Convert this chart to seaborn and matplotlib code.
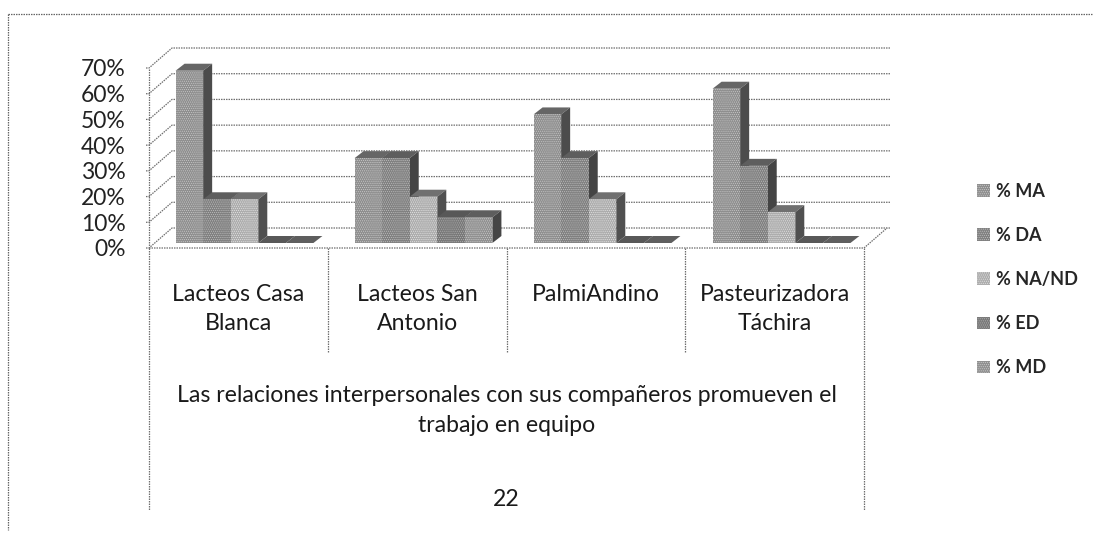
import matplotlib
matplotlib.use("Agg")
import matplotlib.pyplot as plt
from matplotlib.lines import Line2D
from matplotlib.patches import Polygon
from matplotlib.transforms import Affine2D
import pandas as pd
import seaborn as sns

categories = ["Lacteos Casa\nBlanca", "Lacteos San\nAntonio", "PalmiAndino", "Pasteurizadora\nTáchira"]
series = ["% MA", "% DA", "% NA/ND", "% ED", "% MD"]
ma = [67, 33, 50, 60]
da = [17, 33, 33, 30]
na_nd = [17, 18, 17, 12]
ed = [0, 10, 0, 0]
md = [0, 10, 0, 0]
yticks = [0, 10, 20, 30, 40, 50, 60, 70]
group_label = "Las relaciones interpersonales con sus compañeros promueven el\ntrabajo en equipo"
outer_label = "22"

face_colors = ["#8e8e8e", "#808080", "#acacac", "#787878", "#909090"]
hatch_colors = ["#c8c8c8", "#bcbcbc", "#e2e2e2", "#b0b0b0", "#c8c8c8"]
side_colors = ["#4c4c4c", "#444444", "#505050", "#404040", "#464646"]
top_colors = ["#666666", "#5e5e5e", "#707070", "#585858", "#5e5e5e"]

W, H = 1098, 536
sns.set_theme(style="white")
plt.rcParams["font.family"] = ["Lato", "DejaVu Sans"]
plt.rcParams["hatch.linewidth"] = 0.5
fig = plt.figure(figsize=(W / 100, H / 100), dpi=100, facecolor="white")
px = Affine2D().scale(1 / W, -1 / H).translate(0, 1) + fig.transFigure


def pos(x0, y0, x1, y1):
    return [x0 / W, 1 - y1 / H, (x1 - x0) / W, (y1 - y0) / H]


def line(xs, ys, color="#6e6e6e", lw=0.9, ls=(0, (1.2, 0.8))):
    fig.add_artist(Line2D(xs, ys, transform=px, color=color, lw=lw, ls=ls, zorder=0))


# outer frame
line([8, 8], [14, 530], color="#666666")
line([8, 1092], [14, 14], color="#666666")

# front plane axis (value scale and category frame)
FX0, FX1, FY0, FY1 = 149, 864, 248, 68
DX, DY = 23, -20
frame = fig.add_axes(pos(FX0, FY1, FX1, FY0), facecolor="none")
frame.set_xlim(0, 4)
frame.set_ylim(0, 70)
frame.set_yticks(yticks)
frame.set_yticklabels([f"{v}%" for v in yticks], fontsize=16.5, color="#222222")
frame.set_xticks([])
frame.tick_params(axis="y", length=0, pad=17)
for s in frame.spines.values():
    s.set_visible(False)

for v in yticks:
    y = FY0 - (FY0 - FY1) * v / 70
    line([FX0 - 3, FX0, FX0 + DX, FX1 + DX + 3], [y, y, y + DY, y + DY])
line([FX0, FX0], [FY0, FY1])
line([FX0, FX1, FX1 + DX], [FY0, FY0, FY0 + DY])

# multi level category frame
pitch = (FX1 - FX0) / 4
for i in range(1, 4):
    line([FX0 + i * pitch] * 2, [FY0, 352])
line([FX0, FX0], [FY0, 510])
line([FX1, FX1], [FY0, 510])

# bars
df = pd.DataFrame({
    "cat": categories * 5,
    "serie": [s for s in series for _ in categories],
    "val": ma + da + na_nd + ed + md,
})
BY0 = 243
ax = fig.add_axes(pos(155, BY0 - 180, 871, BY0), facecolor="none")
sns.barplot(data=df, x="cat", y="val", hue="serie", hue_order=series, order=categories,
            palette=face_colors, width=0.77, gap=0, dodge=True, ax=ax, legend=True,
            errorbar=None, saturation=1, linewidth=0)
ax.set_xlim(-0.5, 3.5)
ax.set_ylim(0, 70)
ax.axis("off")
handles, labels = ax.get_legend_handles_labels()
ax.get_legend().remove()

sx = 9 * 4 / 716
sy = 7 * 70 / 180
rows = []
for k, cont in enumerate(ax.containers):
    for b in cont:
        rows.append((b.get_x(), k, b))
rows.sort(key=lambda r: r[0])
for n, (x, k, b) in enumerate(rows):
    z = 3 + n
    x0, w, h = b.get_x(), b.get_width(), b.get_height()
    ax.add_patch(Polygon([(x0, h), (x0 + sx, h + sy), (x0 + w + sx, h + sy), (x0 + w, h)],
                         fc=top_colors[k], ec="none", zorder=z, clip_on=False))
    ax.add_patch(Polygon([(x0 + w, 0), (x0 + w + sx, sy), (x0 + w + sx, h + sy), (x0 + w, h)],
                         fc=side_colors[k], ec="none", zorder=z, clip_on=False))
    b.set_zorder(z + 0.5)
    b.set_hatch("........")
    b.set_edgecolor(hatch_colors[k])
    b.set_linewidth(0)

# category labels
txt = "#1a1a1a"
FS = 16.6
for i, c in enumerate(categories):
    cx = FX0 + (i + 0.5) * pitch
    fig.text(cx / W, 1 - 284 / H, c, ha="center", va="top", fontsize=FS,
             color=txt, linespacing=1.5)
fig.text((FX0 + FX1) / 2 / W + 0.0005, 1 - 385 / H, group_label, ha="center", va="top",
         fontsize=FS, color=txt, linespacing=1.5)
fig.text((FX0 + FX1) / 2 / W, 1 - 499 / H, outer_label, ha="center", va="center",
         fontsize=FS, color=txt)

# legend
for h, hc in zip(handles, hatch_colors):
    h.set_hatch("........")
    h.set_edgecolor(hc)
    h.set_linewidth(0)
leg = fig.legend(handles, labels, loc="upper left", bbox_to_anchor=(977 / W, 1 - 183 / H),
                 frameon=False, fontsize=13, labelspacing=1.5, handlelength=0.72,
                 handleheight=0.72, handletextpad=0.35, borderpad=0, borderaxespad=0)
for t in leg.get_texts():
    t.set_color("#262626")
    t.set_fontweight("bold")

fig.savefig("out.png", dpi=100, facecolor="white")
